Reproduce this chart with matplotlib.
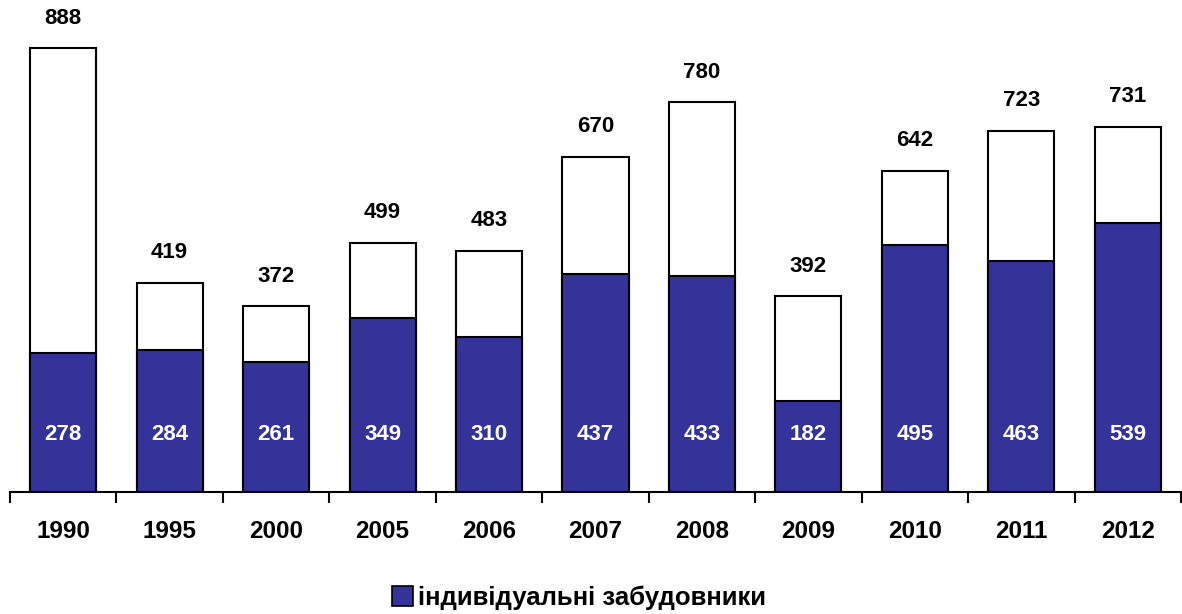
import matplotlib
matplotlib.use("Agg")
import matplotlib.pyplot as plt
import numpy as np
from matplotlib.patches import Patch

years = ["1990", "1995", "2000", "2005", "2006", "2007", "2008", "2009", "2010", "2011", "2012"]
total = [888, 419, 372, 499, 483, 670, 780, 392, 642, 723, 731]
individual = [278, 284, 261, 349, 310, 437, 433, 182, 495, 463, 539]

blue = "#333399"
plt.rcParams["font.family"] = ["Liberation Sans", "DejaVu Sans"]
plt.rcParams["font.weight"] = "bold"

fig = plt.figure(figsize=(11.82, 6.14), dpi=100)
ax = fig.add_axes([10 / 1182, 122 / 614, 1171 / 1182, 492 / 614])

x = np.arange(len(years))
w = 0.62
ax.bar(x, total, width=w, color="white", edgecolor="black", linewidth=1.5, zorder=2)
ax.bar(x, individual, width=w, color=blue, edgecolor="black", linewidth=1.5, zorder=3)

for xi, t, v in zip(x, total, individual):
    ax.text(xi, t + 60, str(t), ha="center", va="center", fontsize=16, fontweight="bold")
    ax.text(xi, 116, str(v), ha="center", va="center", fontsize=16, fontweight="bold",
            color="white", zorder=4)

ax.set_xlim(-0.5, len(years) - 0.5)
ax.set_ylim(0, 984)
for s in ["top", "right", "left"]:
    ax.spines[s].set_visible(False)
ax.spines["bottom"].set_linewidth(1.5)
ax.set_yticks([])
ax.set_xticks(x)
ax.set_xticklabels(years, fontsize=17.5, fontweight="bold")
ax.tick_params(axis="x", which="major", length=0, pad=20)
ax.set_xticks(np.arange(-0.5, len(years)), minor=True)
ax.tick_params(axis="x", which="minor", length=8, width=1.5, direction="out")

handle = Patch(facecolor=blue, edgecolor="black", linewidth=1.2)
fig.legend([handle], ["індивідуальні забудовники"], loc="center", bbox_to_anchor=(0.49, 0.027),
           frameon=False, handlelength=0.8, handleheight=0.8, handletextpad=0.2,
           prop={"weight": "bold", "size": 18.5})

fig.savefig("out.png", dpi=100)
